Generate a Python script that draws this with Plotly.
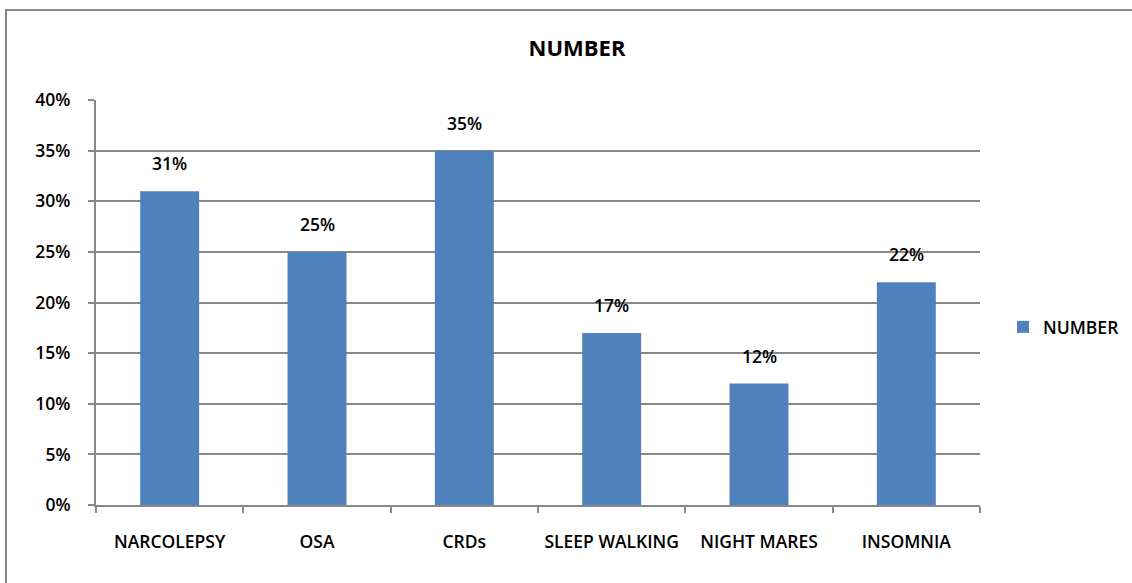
import plotly.graph_objects as go

categories = ["NARCOLEPSY", "OSA", "CRDs", "SLEEP WALKING", "NIGHT MARES", "INSOMNIA"]
values = [31, 25, 35, 17, 12, 22]
tick_vals = [0, 5, 10, 15, 20, 25, 30, 35, 40]
tick_text = [f"{v}%" for v in tick_vals]

L, R, T, B = 96, 152, 100, 78
W, H = 1132, 583
pw, ph = W - L - R, H - T - B
FONT = "Open Sans, Liberation Sans, sans-serif"
WT = 600

fig = go.Figure(go.Bar(
    x=categories, y=values, name="NUMBER",
    marker=dict(color="#4F81BD", line=dict(width=0)),
))

for c, v in zip(categories, values):
    fig.add_annotation(x=c, y=v, text=f"{v}%", showarrow=False, yshift=28,
                       yanchor="middle", font=dict(size=17.5, color="#000000", family=FONT, weight=WT))

fig.update_layout(
    width=W, height=H,
    margin=dict(l=L, r=R, t=T, b=B, autoexpand=False),
    paper_bgcolor="white", plot_bgcolor="white",
    font=dict(family=FONT, size=17.5, color="#000000", weight=WT),
    title=dict(text="<b>NUMBER</b>", x=577 / W, xanchor="center", y=1 - 48 / H, yanchor="middle",
               font=dict(size=22, color="#000000", weight="bold")),
    bargap=0.6,
    showlegend=True,
    legend=dict(x=(1003 - L) / pw, y=(H - B - 327) / ph, xanchor="left", yanchor="middle",
                font=dict(size=17.5, weight=WT), itemwidth=30, bgcolor="rgba(0,0,0,0)"),
    xaxis=dict(showline=True, linecolor="#888888", linewidth=2, ticks="outside", tickson="boundaries",
               ticklen=6, tickcolor="#888888", tickwidth=2, showgrid=False,
               tickfont=dict(size=17.5, weight=WT), ticklabelstandoff=20),
    yaxis=dict(range=[0, 40], tickvals=tick_vals, ticktext=tick_text, showline=True, linecolor="#888888",
               linewidth=2, ticks="outside", ticklen=6, tickcolor="#888888", tickwidth=2,
               showgrid=True, gridcolor="#888888", gridwidth=2, zeroline=False,
               tickfont=dict(size=17.5, weight=WT), ticklabelstandoff=14),
    shapes=[dict(type="rect", xref="paper", yref="paper",
                 x0=(6 - L) / pw, x1=(W + 10 - L) / pw,
                 y0=(H - B - 10) / ph, y1=-(B + 10) / ph,
                 line=dict(color="#888888", width=2), fillcolor="rgba(0,0,0,0)", layer="below")],
)

fig.write_html("out.html")
